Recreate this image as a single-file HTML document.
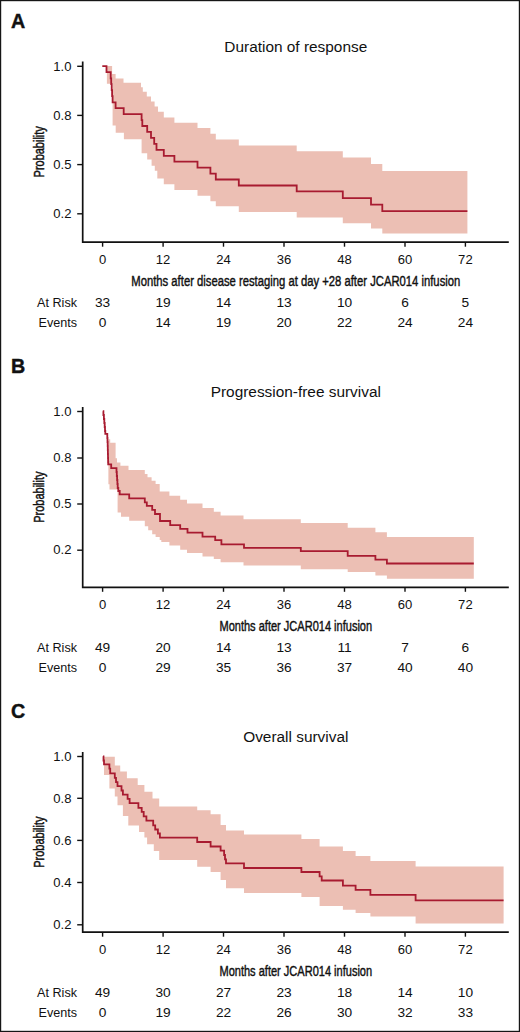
<!DOCTYPE html>
<html><head><meta charset="utf-8"><style>
html,body{margin:0;padding:0;background:#fff;}
body{width:520px;height:1032px;overflow:hidden;}
svg{display:block;}
text{font-family:"Liberation Sans", sans-serif;fill:#111111;}
.lt{font-weight:bold;font-size:19.7px;stroke:#111111;stroke-width:0.4px;}
.ti{font-size:15.4px;}
.tk{font-size:12px;}
.cn{font-size:15.5px;stroke:#111111;stroke-width:0.45px;}
.rk{font-size:12.6px;}
</style></head><body>
<svg width="520" height="1032" viewBox="0 0 520 1032">
<rect x="0" y="0" width="520" height="1032" fill="#fff"/>

<polygon points="106.9,66.0 112.1,66.0 112.1,74.1 115.6,74.1 115.6,78.4 123.5,78.4 123.5,82.8 141.0,82.8 141.0,87.2 142.8,87.2 142.8,91.7 146.8,91.7 146.8,96.5 151.0,96.5 151.0,101.6 154.6,101.6 154.6,106.6 158.0,106.6 158.0,111.8 163.8,111.8 163.8,117.5 174.4,117.5 174.4,122.7 197.5,122.7 197.5,128.1 210.4,128.1 210.4,133.8 215.8,133.8 215.8,139.6 238.8,139.6 238.8,145.4 296.7,145.4 296.7,151.2 342.8,151.2 342.8,157.5 371.0,157.5 371.0,164.0 382.3,164.0 382.3,171.0 467.4,171.0 467.4,233.5 382.3,233.5 382.3,228.6 371.0,228.6 371.0,223.2 342.8,223.2 342.8,217.5 296.7,217.5 296.7,212.0 238.8,212.0 238.8,206.3 215.8,206.3 215.8,201.2 210.4,201.2 210.4,195.8 197.5,195.8 197.5,190.0 174.4,190.0 174.4,184.2 163.8,184.2 163.8,178.4 157.3,178.4 157.3,170.8 154.8,170.8 154.8,165.8 151.6,165.8 151.6,159.5 147.2,159.5 147.2,153.2 141.6,153.2 141.6,139.3 123.9,139.3 123.9,132.8 115.7,132.8 115.7,125.5 112.6,125.5 112.6,83.7 106.9,83.7" fill="#ecbfb4"/>
<polyline points="102.3,66.2 106.5,66.2 106.5,72.2 110.7,72.2 110.7,78.3 111.2,78.3 111.2,84.2 111.7,84.2 111.7,90.2 112.1,90.2 112.1,96.2 112.6,96.2 112.6,102.3 115.6,102.3 115.6,108.1 123.7,108.1 123.7,114.1 141.6,114.1 141.6,120.1 142.3,120.1 142.3,126.0 147.2,126.0 147.2,131.8 151.0,131.8 151.0,137.8 154.2,137.8 154.2,143.8 156.5,143.8 156.5,149.8 163.8,149.8 163.8,155.8 174.4,155.8 174.4,161.7 197.5,161.7 197.5,167.7 210.4,167.7 210.4,173.6 215.8,173.6 215.8,179.5 238.8,179.5 238.8,185.5 296.7,185.5 296.7,191.4 342.8,191.4 342.8,198.2 371.0,198.2 371.0,204.7 382.3,204.7 382.3,211.2 467.4,211.2" fill="none" stroke="#a81b30" stroke-width="1.8" stroke-linejoin="miter"/>
<path d="M82.7 61.5 V242.2 H508.8" fill="none" stroke="#111111" stroke-width="1.7"/>
<line x1="77.2" y1="66.3" x2="82.7" y2="66.3" stroke="#111111" stroke-width="1.4"/>
<text class="tk" transform="translate(71.5 70.5) scale(1.09 1)" text-anchor="end">1.0</text>
<line x1="77.2" y1="115.4" x2="82.7" y2="115.4" stroke="#111111" stroke-width="1.4"/>
<text class="tk" transform="translate(71.5 119.6) scale(1.09 1)" text-anchor="end">0.8</text>
<line x1="77.2" y1="164.6" x2="82.7" y2="164.6" stroke="#111111" stroke-width="1.4"/>
<text class="tk" transform="translate(71.5 168.8) scale(1.09 1)" text-anchor="end">0.5</text>
<line x1="77.2" y1="213.8" x2="82.7" y2="213.8" stroke="#111111" stroke-width="1.4"/>
<text class="tk" transform="translate(71.5 218.0) scale(1.09 1)" text-anchor="end">0.2</text>
<line x1="102.6" y1="242.2" x2="102.6" y2="246.7" stroke="#111111" stroke-width="1.4"/>
<text class="tk" transform="translate(102.6 264.2) scale(1.09 1)" text-anchor="middle">0</text>
<line x1="163.1" y1="242.2" x2="163.1" y2="246.7" stroke="#111111" stroke-width="1.4"/>
<text class="tk" transform="translate(163.1 264.2) scale(1.09 1)" text-anchor="middle">12</text>
<line x1="223.5" y1="242.2" x2="223.5" y2="246.7" stroke="#111111" stroke-width="1.4"/>
<text class="tk" transform="translate(223.5 264.2) scale(1.09 1)" text-anchor="middle">24</text>
<line x1="284.0" y1="242.2" x2="284.0" y2="246.7" stroke="#111111" stroke-width="1.4"/>
<text class="tk" transform="translate(284.0 264.2) scale(1.09 1)" text-anchor="middle">36</text>
<line x1="344.5" y1="242.2" x2="344.5" y2="246.7" stroke="#111111" stroke-width="1.4"/>
<text class="tk" transform="translate(344.5 264.2) scale(1.09 1)" text-anchor="middle">48</text>
<line x1="405.0" y1="242.2" x2="405.0" y2="246.7" stroke="#111111" stroke-width="1.4"/>
<text class="tk" transform="translate(405.0 264.2) scale(1.09 1)" text-anchor="middle">60</text>
<line x1="465.4" y1="242.2" x2="465.4" y2="246.7" stroke="#111111" stroke-width="1.4"/>
<text class="tk" transform="translate(465.4 264.2) scale(1.09 1)" text-anchor="middle">72</text>
<text class="lt" x="11" y="28.0">A</text>
<text class="ti" x="295.8" y="52.3" text-anchor="middle">Duration of response</text>
<text class="cn" x="295.8" y="286.0" text-anchor="middle" textLength="329.0" lengthAdjust="spacingAndGlyphs">Months after disease restaging at day +28 after JCAR014 infusion</text>
<text class="cn" transform="translate(44.2 151.8) rotate(-90)" x="0" y="0" text-anchor="middle" textLength="51.2" lengthAdjust="spacingAndGlyphs">Probability</text>
<text class="rk" x="77" y="307.2" text-anchor="end">At Risk</text>
<text class="rk" x="77" y="327.0" text-anchor="end">Events</text>
<text class="rk" transform="translate(102.6 307.2) scale(1.09 1)" text-anchor="middle">33</text>
<text class="rk" transform="translate(102.6 327.0) scale(1.09 1)" text-anchor="middle">0</text>
<text class="rk" transform="translate(163.1 307.2) scale(1.09 1)" text-anchor="middle">19</text>
<text class="rk" transform="translate(163.1 327.0) scale(1.09 1)" text-anchor="middle">14</text>
<text class="rk" transform="translate(223.5 307.2) scale(1.09 1)" text-anchor="middle">14</text>
<text class="rk" transform="translate(223.5 327.0) scale(1.09 1)" text-anchor="middle">19</text>
<text class="rk" transform="translate(284.0 307.2) scale(1.09 1)" text-anchor="middle">13</text>
<text class="rk" transform="translate(284.0 327.0) scale(1.09 1)" text-anchor="middle">20</text>
<text class="rk" transform="translate(344.5 307.2) scale(1.09 1)" text-anchor="middle">10</text>
<text class="rk" transform="translate(344.5 327.0) scale(1.09 1)" text-anchor="middle">22</text>
<text class="rk" transform="translate(405.0 307.2) scale(1.09 1)" text-anchor="middle">6</text>
<text class="rk" transform="translate(405.0 327.0) scale(1.09 1)" text-anchor="middle">24</text>
<text class="rk" transform="translate(465.4 307.2) scale(1.09 1)" text-anchor="middle">5</text>
<text class="rk" transform="translate(465.4 327.0) scale(1.09 1)" text-anchor="middle">24</text>
<polygon points="108.4,439.3 110.2,439.3 110.2,442.7 115.6,442.7 115.6,458.3 117.0,458.3 117.0,462.4 120.4,462.4 120.4,465.8 128.5,465.8 128.5,469.9 144.8,469.9 144.8,474.0 147.5,474.0 147.5,477.3 151.6,477.3 151.6,480.7 155.6,480.7 155.6,484.1 159.7,484.1 159.7,491.6 169.4,491.6 169.4,495.8 180.2,495.8 180.2,499.8 187.0,499.8 187.0,503.6 202.5,503.6 202.5,507.9 213.8,507.9 213.8,511.7 220.6,511.7 220.6,515.5 243.5,515.5 243.5,519.2 300.8,519.2 300.8,523.0 347.7,523.0 347.7,527.7 375.4,527.7 375.4,532.3 386.9,532.3 386.9,536.9 473.8,536.9 473.8,578.8 386.9,578.8 386.9,575.4 375.4,575.4 375.4,571.9 347.7,571.9 347.7,569.2 300.8,569.2 300.8,565.5 243.5,565.5 243.5,562.3 220.6,562.3 220.6,559.0 213.8,559.0 213.8,556.4 202.5,556.4 202.5,552.9 187.0,552.9 187.0,549.7 180.2,549.7 180.2,545.6 169.4,545.6 169.4,542.1 161.3,542.1 161.3,540.0 159.7,540.0 159.7,537.0 155.6,537.0 155.6,534.3 152.2,534.3 152.2,530.3 148.2,530.3 148.2,526.2 144.8,526.2 144.8,520.8 129.2,520.8 129.2,516.7 121.0,516.7 121.0,512.6 117.6,512.6 117.6,489.6 109.5,489.6 109.5,484.3 108.4,484.3" fill="#ecbfb4"/>
<polyline points="102.8,411.2 103.4,411.2 103.4,415.0 103.9,415.0 103.9,419.0 104.3,419.0 104.3,423.0 104.7,423.0 104.7,427.0 105.0,427.0 105.0,431.0 105.3,431.0 105.3,433.8 107.3,433.8 107.3,438.0 107.5,438.0 107.5,442.0 107.7,442.0 107.7,446.0 107.8,446.0 107.8,450.0 107.9,450.0 107.9,454.0 108.0,454.0 108.0,458.0 108.1,458.0 108.1,462.0 108.2,462.0 108.2,464.3 111.2,464.3 111.2,468.1 116.5,468.1 116.5,472.0 116.8,472.0 116.8,476.0 117.1,476.0 117.1,480.0 117.4,480.0 117.4,484.0 117.7,484.0 117.7,488.0 118.3,488.0 118.3,491.0 119.7,491.0 119.7,494.3 129.2,494.3 129.2,498.4 144.8,498.4 144.8,502.4 146.8,502.4 146.8,505.8 152.2,505.8 152.2,509.9 155.0,509.9 155.0,514.0 160.0,514.0 160.0,521.0 170.2,521.0 170.2,525.2 180.2,525.2 180.2,528.9 187.5,528.9 187.5,532.7 202.5,532.7 202.5,536.7 215.2,536.7 215.2,540.2 221.4,540.2 221.4,544.3 244.0,544.3 244.0,547.8 300.8,547.8 300.8,551.2 347.7,551.2 347.7,555.8 375.4,555.8 375.4,559.6 386.9,559.6 386.9,563.5 473.8,563.5" fill="none" stroke="#a81b30" stroke-width="1.8" stroke-linejoin="miter"/>
<path d="M82.7 407.0 V587.3 H508.8" fill="none" stroke="#111111" stroke-width="1.7"/>
<line x1="77.2" y1="411.5" x2="82.7" y2="411.5" stroke="#111111" stroke-width="1.4"/>
<text class="tk" transform="translate(71.5 415.7) scale(1.09 1)" text-anchor="end">1.0</text>
<line x1="77.2" y1="458.0" x2="82.7" y2="458.0" stroke="#111111" stroke-width="1.4"/>
<text class="tk" transform="translate(71.5 462.2) scale(1.09 1)" text-anchor="end">0.8</text>
<line x1="77.2" y1="504.0" x2="82.7" y2="504.0" stroke="#111111" stroke-width="1.4"/>
<text class="tk" transform="translate(71.5 508.2) scale(1.09 1)" text-anchor="end">0.5</text>
<line x1="77.2" y1="550.2" x2="82.7" y2="550.2" stroke="#111111" stroke-width="1.4"/>
<text class="tk" transform="translate(71.5 554.4) scale(1.09 1)" text-anchor="end">0.2</text>
<line x1="102.6" y1="587.3" x2="102.6" y2="591.8" stroke="#111111" stroke-width="1.4"/>
<text class="tk" transform="translate(102.6 609.3) scale(1.09 1)" text-anchor="middle">0</text>
<line x1="163.1" y1="587.3" x2="163.1" y2="591.8" stroke="#111111" stroke-width="1.4"/>
<text class="tk" transform="translate(163.1 609.3) scale(1.09 1)" text-anchor="middle">12</text>
<line x1="223.5" y1="587.3" x2="223.5" y2="591.8" stroke="#111111" stroke-width="1.4"/>
<text class="tk" transform="translate(223.5 609.3) scale(1.09 1)" text-anchor="middle">24</text>
<line x1="284.0" y1="587.3" x2="284.0" y2="591.8" stroke="#111111" stroke-width="1.4"/>
<text class="tk" transform="translate(284.0 609.3) scale(1.09 1)" text-anchor="middle">36</text>
<line x1="344.5" y1="587.3" x2="344.5" y2="591.8" stroke="#111111" stroke-width="1.4"/>
<text class="tk" transform="translate(344.5 609.3) scale(1.09 1)" text-anchor="middle">48</text>
<line x1="405.0" y1="587.3" x2="405.0" y2="591.8" stroke="#111111" stroke-width="1.4"/>
<text class="tk" transform="translate(405.0 609.3) scale(1.09 1)" text-anchor="middle">60</text>
<line x1="465.4" y1="587.3" x2="465.4" y2="591.8" stroke="#111111" stroke-width="1.4"/>
<text class="tk" transform="translate(465.4 609.3) scale(1.09 1)" text-anchor="middle">72</text>
<text class="lt" x="11" y="373.0">B</text>
<text class="ti" x="295.8" y="397.3" text-anchor="middle">Progression-free survival</text>
<text class="cn" x="295.8" y="631.1" text-anchor="middle" textLength="152.7" lengthAdjust="spacingAndGlyphs">Months after JCAR014 infusion</text>
<text class="cn" transform="translate(44.2 497.1) rotate(-90)" x="0" y="0" text-anchor="middle" textLength="51.2" lengthAdjust="spacingAndGlyphs">Probability</text>
<text class="rk" x="77" y="652.3" text-anchor="end">At Risk</text>
<text class="rk" x="77" y="672.1" text-anchor="end">Events</text>
<text class="rk" transform="translate(102.6 652.3) scale(1.09 1)" text-anchor="middle">49</text>
<text class="rk" transform="translate(102.6 672.1) scale(1.09 1)" text-anchor="middle">0</text>
<text class="rk" transform="translate(163.1 652.3) scale(1.09 1)" text-anchor="middle">20</text>
<text class="rk" transform="translate(163.1 672.1) scale(1.09 1)" text-anchor="middle">29</text>
<text class="rk" transform="translate(223.5 652.3) scale(1.09 1)" text-anchor="middle">14</text>
<text class="rk" transform="translate(223.5 672.1) scale(1.09 1)" text-anchor="middle">35</text>
<text class="rk" transform="translate(284.0 652.3) scale(1.09 1)" text-anchor="middle">13</text>
<text class="rk" transform="translate(284.0 672.1) scale(1.09 1)" text-anchor="middle">36</text>
<text class="rk" transform="translate(344.5 652.3) scale(1.09 1)" text-anchor="middle">11</text>
<text class="rk" transform="translate(344.5 672.1) scale(1.09 1)" text-anchor="middle">37</text>
<text class="rk" transform="translate(405.0 652.3) scale(1.09 1)" text-anchor="middle">7</text>
<text class="rk" transform="translate(405.0 672.1) scale(1.09 1)" text-anchor="middle">40</text>
<text class="rk" transform="translate(465.4 652.3) scale(1.09 1)" text-anchor="middle">6</text>
<text class="rk" transform="translate(465.4 672.1) scale(1.09 1)" text-anchor="middle">40</text>
<polygon points="104.0,756.7 114.8,756.7 114.8,765.5 120.2,765.5 120.2,771.5 126.9,771.5 126.9,778.3 137.7,778.3 137.7,785.0 144.4,785.0 144.4,791.7 152.5,791.7 152.5,798.5 159.2,798.5 159.2,806.6 197.2,806.6 197.2,810.2 210.6,810.2 210.6,814.2 220.6,814.2 220.6,825.0 226.0,825.0 226.0,830.4 244.0,830.4 244.0,834.6 301.4,834.6 301.4,839.0 319.6,839.0 319.6,846.6 342.9,846.6 342.9,850.9 355.6,850.9 355.6,856.0 370.4,856.0 370.4,861.0 415.6,861.0 415.6,866.5 503.6,866.5 503.6,923.6 415.6,923.6 415.6,916.4 370.4,916.4 370.4,913.0 355.6,913.0 355.6,909.7 342.9,909.7 342.9,905.9 319.6,905.9 319.6,897.0 301.4,897.0 301.4,892.9 244.0,892.9 244.0,888.3 226.0,888.3 226.0,880.0 220.6,880.0 220.6,872.1 210.6,872.1 210.6,866.7 197.2,866.7 197.2,860.0 159.2,860.0 159.2,851.0 153.8,851.0 153.8,844.2 147.1,844.2 147.1,837.5 144.4,837.5 144.4,832.1 139.0,832.1 139.0,825.4 128.3,825.4 128.3,816.0 122.9,816.0 122.9,805.2 117.5,805.2 117.5,796.4 114.8,796.4 114.8,788.4 109.4,788.4 109.4,775.0 104.0,775.0" fill="#ecbfb4"/>
<polyline points="103.0,756.3 103.5,756.3 103.5,760.5 104.0,760.5 104.0,764.3 109.4,764.3 109.4,768.6 110.2,768.6 110.2,773.4 114.8,773.4 114.8,777.9 116.0,777.9 116.0,782.2 117.5,782.2 117.5,786.2 121.5,786.2 121.5,790.5 122.9,790.5 122.9,794.6 127.6,794.6 127.6,798.9 129.6,798.9 129.6,803.2 138.4,803.2 138.4,807.9 141.7,807.9 141.7,811.9 143.7,811.9 143.7,816.4 146.4,816.4 146.4,820.7 153.2,820.7 153.2,825.4 155.2,825.4 155.2,829.5 157.9,829.5 157.9,833.5 159.9,833.5 159.9,837.7 197.2,837.7 197.2,842.0 210.6,842.0 210.6,846.5 220.6,846.5 220.6,850.6 224.1,850.6 224.1,855.0 225.0,855.0 225.0,859.3 226.0,859.3 226.0,863.4 244.0,863.4 244.0,868.0 301.4,868.0 301.4,872.0 319.6,872.0 319.6,876.3 321.7,876.3 321.7,880.5 342.9,880.5 342.9,885.6 355.6,885.6 355.6,889.8 370.4,889.8 370.4,894.9 415.6,894.9 415.6,900.4 503.6,900.4" fill="none" stroke="#a81b30" stroke-width="1.8" stroke-linejoin="miter"/>
<path d="M82.7 752.0 V932.2 H508.8" fill="none" stroke="#111111" stroke-width="1.7"/>
<line x1="77.2" y1="756.5" x2="82.7" y2="756.5" stroke="#111111" stroke-width="1.4"/>
<text class="tk" transform="translate(71.5 760.7) scale(1.09 1)" text-anchor="end">1.0</text>
<line x1="77.2" y1="798.3" x2="82.7" y2="798.3" stroke="#111111" stroke-width="1.4"/>
<text class="tk" transform="translate(71.5 802.5) scale(1.09 1)" text-anchor="end">0.8</text>
<line x1="77.2" y1="840.4" x2="82.7" y2="840.4" stroke="#111111" stroke-width="1.4"/>
<text class="tk" transform="translate(71.5 844.6) scale(1.09 1)" text-anchor="end">0.6</text>
<line x1="77.2" y1="882.5" x2="82.7" y2="882.5" stroke="#111111" stroke-width="1.4"/>
<text class="tk" transform="translate(71.5 886.7) scale(1.09 1)" text-anchor="end">0.4</text>
<line x1="77.2" y1="924.8" x2="82.7" y2="924.8" stroke="#111111" stroke-width="1.4"/>
<text class="tk" transform="translate(71.5 929.0) scale(1.09 1)" text-anchor="end">0.2</text>
<line x1="102.6" y1="932.2" x2="102.6" y2="936.7" stroke="#111111" stroke-width="1.4"/>
<text class="tk" transform="translate(102.6 954.2) scale(1.09 1)" text-anchor="middle">0</text>
<line x1="163.1" y1="932.2" x2="163.1" y2="936.7" stroke="#111111" stroke-width="1.4"/>
<text class="tk" transform="translate(163.1 954.2) scale(1.09 1)" text-anchor="middle">12</text>
<line x1="223.5" y1="932.2" x2="223.5" y2="936.7" stroke="#111111" stroke-width="1.4"/>
<text class="tk" transform="translate(223.5 954.2) scale(1.09 1)" text-anchor="middle">24</text>
<line x1="284.0" y1="932.2" x2="284.0" y2="936.7" stroke="#111111" stroke-width="1.4"/>
<text class="tk" transform="translate(284.0 954.2) scale(1.09 1)" text-anchor="middle">36</text>
<line x1="344.5" y1="932.2" x2="344.5" y2="936.7" stroke="#111111" stroke-width="1.4"/>
<text class="tk" transform="translate(344.5 954.2) scale(1.09 1)" text-anchor="middle">48</text>
<line x1="405.0" y1="932.2" x2="405.0" y2="936.7" stroke="#111111" stroke-width="1.4"/>
<text class="tk" transform="translate(405.0 954.2) scale(1.09 1)" text-anchor="middle">60</text>
<line x1="465.4" y1="932.2" x2="465.4" y2="936.7" stroke="#111111" stroke-width="1.4"/>
<text class="tk" transform="translate(465.4 954.2) scale(1.09 1)" text-anchor="middle">72</text>
<text class="lt" x="11" y="717.5">C</text>
<text class="ti" x="295.8" y="742.0" text-anchor="middle">Overall survival</text>
<text class="cn" x="295.8" y="976.0" text-anchor="middle" textLength="152.7" lengthAdjust="spacingAndGlyphs">Months after JCAR014 infusion</text>
<text class="cn" transform="translate(44.2 842.1) rotate(-90)" x="0" y="0" text-anchor="middle" textLength="51.2" lengthAdjust="spacingAndGlyphs">Probability</text>
<text class="rk" x="77" y="997.2" text-anchor="end">At Risk</text>
<text class="rk" x="77" y="1017.0" text-anchor="end">Events</text>
<text class="rk" transform="translate(102.6 997.2) scale(1.09 1)" text-anchor="middle">49</text>
<text class="rk" transform="translate(102.6 1017.0) scale(1.09 1)" text-anchor="middle">0</text>
<text class="rk" transform="translate(163.1 997.2) scale(1.09 1)" text-anchor="middle">30</text>
<text class="rk" transform="translate(163.1 1017.0) scale(1.09 1)" text-anchor="middle">19</text>
<text class="rk" transform="translate(223.5 997.2) scale(1.09 1)" text-anchor="middle">27</text>
<text class="rk" transform="translate(223.5 1017.0) scale(1.09 1)" text-anchor="middle">22</text>
<text class="rk" transform="translate(284.0 997.2) scale(1.09 1)" text-anchor="middle">23</text>
<text class="rk" transform="translate(284.0 1017.0) scale(1.09 1)" text-anchor="middle">26</text>
<text class="rk" transform="translate(344.5 997.2) scale(1.09 1)" text-anchor="middle">18</text>
<text class="rk" transform="translate(344.5 1017.0) scale(1.09 1)" text-anchor="middle">30</text>
<text class="rk" transform="translate(405.0 997.2) scale(1.09 1)" text-anchor="middle">14</text>
<text class="rk" transform="translate(405.0 1017.0) scale(1.09 1)" text-anchor="middle">32</text>
<text class="rk" transform="translate(465.4 997.2) scale(1.09 1)" text-anchor="middle">10</text>
<text class="rk" transform="translate(465.4 1017.0) scale(1.09 1)" text-anchor="middle">33</text>
<rect x="0.6" y="0.6" width="518.8" height="1030.8" fill="none" stroke="#161616" stroke-width="1.2"/>
</svg>
</body></html>
